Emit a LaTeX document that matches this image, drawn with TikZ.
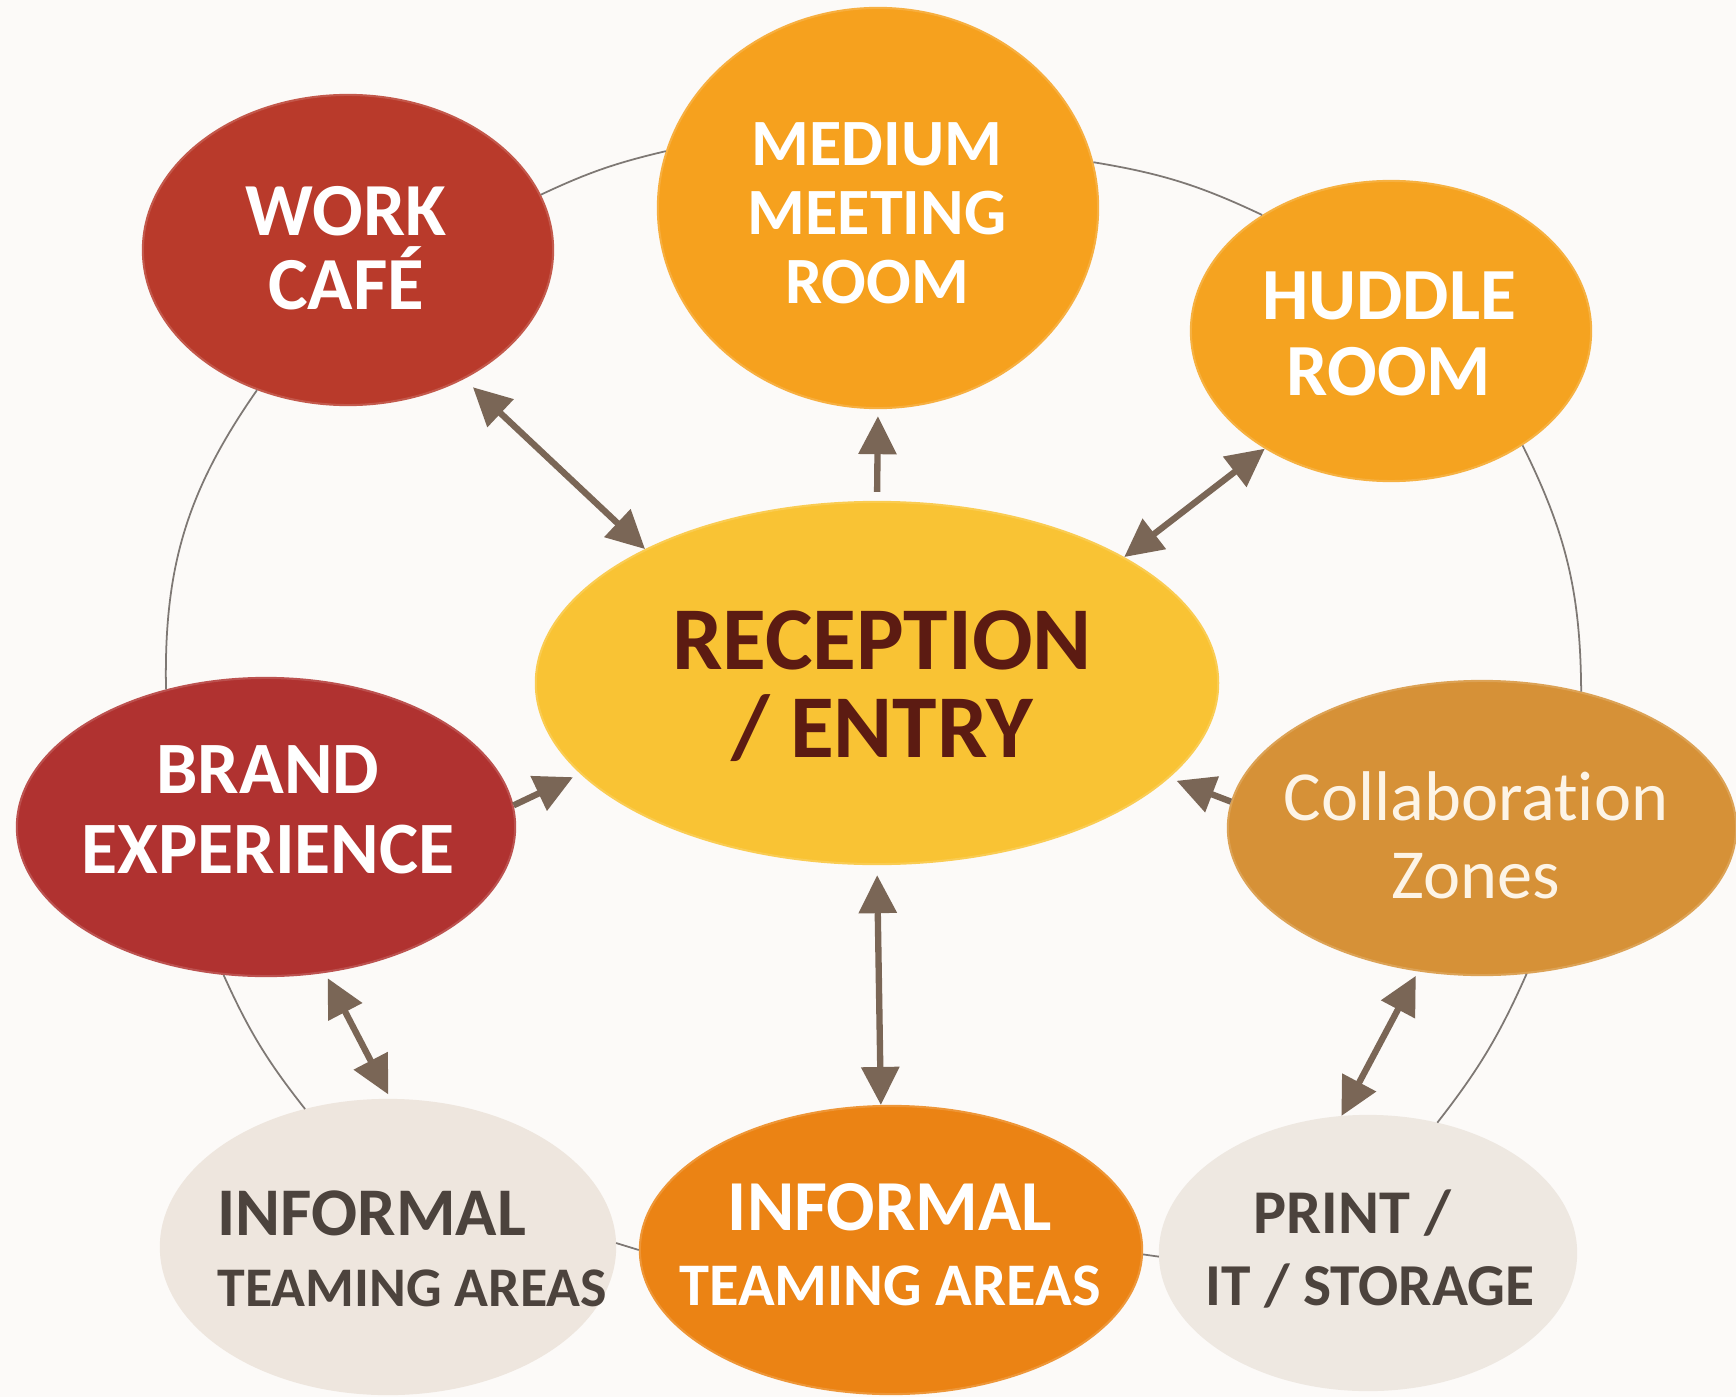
\documentclass[tikz,border=0pt]{standalone}
\usepackage{fontspec}
\setmainfont{Carlito}[Ligatures=NoCommon]
\usetikzlibrary{shapes.geometric,arrows.meta}
\definecolor{cBg}{HTML}{FCFAF8}
\definecolor{cWork}{HTML}{B93A2B}
\definecolor{cBrand}{HTML}{B03230}
\definecolor{cMed}{HTML}{F6A11E}
\definecolor{cHud}{HTML}{F5A320}
\definecolor{cRec}{HTML}{F9C334}
\definecolor{cCol}{HTML}{D69137}
\definecolor{cGray}{HTML}{EEE6DE}
\definecolor{cOrg}{HTML}{EB8314}
\definecolor{cPrint}{HTML}{EEE8E1}
\definecolor{cArrow}{HTML}{7A6656}
\definecolor{cRing}{HTML}{7E7874}
\definecolor{cRecText}{HTML}{5C1B12}
\definecolor{cGrayText}{HTML}{4C433D}
\definecolor{cCream}{HTML}{FDF4E6}
\begin{document}
\begin{tikzpicture}[x=0.01cm,y=0.01cm,
  blob/.style={ellipse, inner sep=0pt, line width=0.6pt},
  lbl/.style={align=center, inner sep=0pt, text=white, font=\bfseries},
  ring/.style={draw=cRing, line width=0.5pt},
  dbl/.style={draw=cArrow, line width=1.8pt, {Triangle[length=0.38cm,width=0.37cm]}-{Triangle[length=0.38cm,width=0.37cm]}},
  sgl/.style={draw=cArrow, line width=1.8pt, -{Triangle[length=0.38cm,width=0.37cm]}}
]
\fill[cBg] (0,0) rectangle (1736,-1397);
\useasboundingbox (0,0) rectangle (1736,-1397);

% ellipses
\node[blob, fill=cWork, draw=cWork!85!white, minimum width=4.1cm, minimum height=3.1cm] (work) at (348,-250) {};
\node[blob, fill=cMed, draw=cMed!85!white, minimum width=4.4cm, minimum height=4.0cm] (med) at (878,-208) {};
\node[blob, fill=cHud, draw=cHud!85!white, minimum width=4.0cm, minimum height=3.0cm] (hud) at (1391,-331) {};
\node[blob, fill=cRec, draw=cRec!85!white, minimum width=6.82cm, minimum height=3.62cm] (rec) at (877,-683) {};
\node[blob, fill=cBrand, draw=cBrand!85!white, minimum width=4.98cm, minimum height=2.98cm] (brand) at (266,-827) {};
\node[blob, fill=cCol, draw=cCol!85!white, minimum width=5.08cm, minimum height=2.94cm] (col) at (1482,-828) {};
\node[blob, fill=cGray, draw=cGray, minimum width=4.54cm, minimum height=2.94cm] (gray) at (388,-1247) {};
\node[blob, fill=cOrg, draw=cOrg!85!white, minimum width=5.02cm, minimum height=2.88cm] (org) at (891,-1250) {};
\node[blob, fill=cPrint, draw=cPrint, minimum width=4.16cm, minimum height=2.74cm] (print) at (1368,-1253) {};

% texts
\node[lbl, font=\bfseries\fontsize{21.3}{21}\selectfont] (workT) at (346,-248) {WORK\\CAFÉ};
\node[lbl, font=\bfseries\fontsize{18.8}{19.6}\selectfont] (medT) at (877,-213) {MEDIUM\\MEETING\\ROOM};
\node[lbl, font=\bfseries\fontsize{20.9}{21.6}\selectfont] (hudT) at (1389,-334) {HUDDLE\\ROOM};
\node[lbl, text=cRecText, font=\bfseries\fontsize{25.5}{25}\selectfont] (recT) at (882,-686) {RECEPTION\\/ ENTRY};
\node[lbl, font=\bfseries\fontsize{21}{22.8}\selectfont] (brandT) at (268,-810) {BRAND\\EXPERIENCE};
\node[lbl, text=cCream, font=\fontsize{20}{22.2}\selectfont] (colT) at (1476,-835) {Collaboration\\Zones};
\node[lbl, align=left, anchor=west, text=cGrayText, font=\bfseries\fontsize{15.9}{20.2}\selectfont] (grayT) at (217,-1249) {{\fontsize{19.4}{20.2}\selectfont INFORMAL}\\TEAMING AREAS};
\node[lbl, font=\bfseries\fontsize{17.2}{21.3}\selectfont] (orgT) at (890,-1245) {{\fontsize{20.4}{21.3}\selectfont INFORMAL}\\TEAMING AREAS};
\node[lbl, text=cGrayText, font=\bfseries\fontsize{16.9}{20.5}\selectfont] (printT) at (1370,-1249) {{\fontsize{17.7}{20.5}\selectfont PRINT /\hspace*{10pt}}\\IT / STORAGE};

% ring
\draw[ring] (work.16) to[bend left=6] (med.165);
\draw[ring] (med.12) to[bend left=8] (hud.138);
\draw[ring] (hud.-41) to[bend left=13] (col.54);
\draw[ring] (col.-73) to[bend left=7] (print.62);
\draw[ring] (print.181) -- (org.-1);
\draw[ring] (org.180) -- (gray.1);
\draw[ring] (gray.121) to[bend left=7] (brand.-106);
\draw[ring] (brand.126) to[bend left=18] (work.-123);

% arrows
\draw[dbl, shorten <=0.12cm] (work.-48) -- (rec.150);
\draw[sgl, shorten <=0.09cm, shorten >=0.07cm] (rec.90) -- (med.-90);
\draw[dbl] (hud.223) -- (rec.27);
\draw[sgl, shorten >=0.08cm] (brand.5.5) -- (rec.197.5);
\draw[sgl, shorten >=0.08cm] (col.174) -- (rec.342.5);
\draw[dbl, shorten <=0.1cm] (rec.-90.3) -- (org.94.7);
\draw[dbl, shorten <=0.06cm, shorten >=0.05cm] (brand.-68) -- (gray.89);
\draw[dbl, shorten <=0.05cm] (col.246) -- (print.101);
\end{tikzpicture}
\end{document}
